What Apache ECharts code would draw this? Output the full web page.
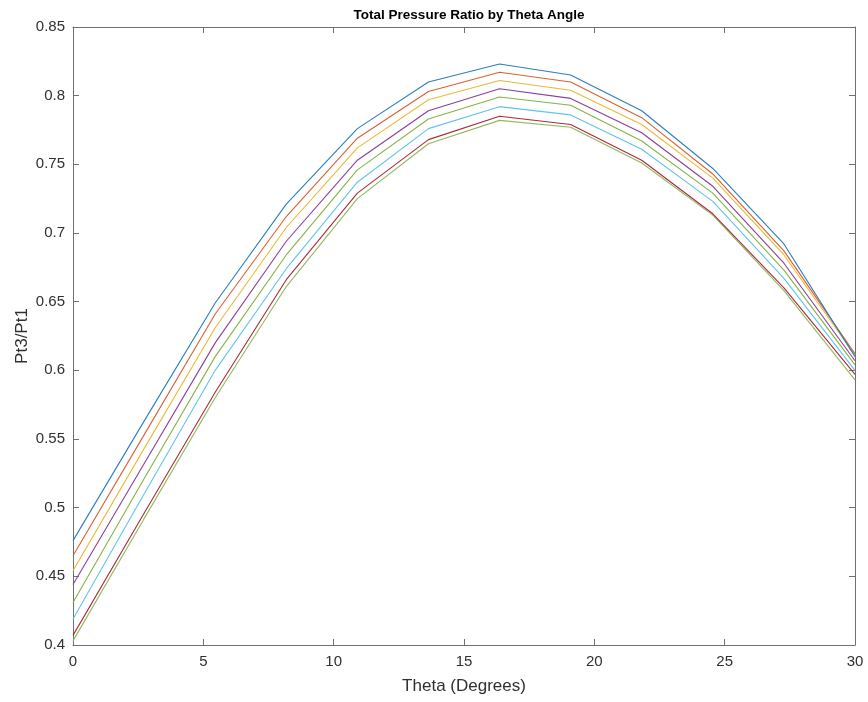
<!DOCTYPE html>
<html>
<head>
<meta charset="utf-8">
<script src="https://cdn.jsdelivr.net/npm/echarts@6/dist/echarts.min.js"></script>
<style>
html,body{margin:0;padding:0;background:#fff;}
#chart{width:868px;height:702px;}
</style>
</head>
<body>
<div id="chart"></div>
<script>
var thetaValues = [0, 2.727, 5.455, 8.182, 10.909, 13.636, 16.364, 19.091, 21.818, 24.545, 27.273, 30];
var line1 = [0.476, 0.563, 0.649, 0.721, 0.776, 0.810, 0.823, 0.815, 0.789, 0.747, 0.692, 0.610];
var line2 = [0.465, 0.553, 0.641, 0.712, 0.769, 0.803, 0.817, 0.810, 0.784, 0.743, 0.687, 0.612];
var line3 = [0.454, 0.543, 0.631, 0.704, 0.762, 0.797, 0.811, 0.804, 0.779, 0.740, 0.684, 0.611];
var line4 = [0.444, 0.532, 0.620, 0.694, 0.753, 0.789, 0.805, 0.798, 0.773, 0.734, 0.678, 0.607];
var line5 = [0.431, 0.521, 0.610, 0.684, 0.746, 0.783, 0.799, 0.793, 0.767, 0.729, 0.673, 0.604];
var line6 = [0.419, 0.510, 0.600, 0.674, 0.737, 0.776, 0.792, 0.786, 0.761, 0.723, 0.667, 0.600];
var line7 = [0.407, 0.496, 0.584, 0.666, 0.729, 0.768, 0.785, 0.779, 0.753, 0.714, 0.660, 0.597];
var line8 = [0.403, 0.492, 0.580, 0.661, 0.725, 0.765, 0.782, 0.777, 0.751, 0.713, 0.658, 0.593];
var allLines = [line1, line2, line3, line4, line5, line6, line7, line8];
var lineColors = ['#2a7fc0', '#dc6030', '#edb838', '#8a4098', '#84b446', '#62c3ee', '#ab2a40', '#8cbc5a'];

var titleText = 'Total Pressure Ratio by Theta Angle';
var xLabel = 'Theta (Degrees)';
var yLabel = 'Pt3/Pt1';

var chart = echarts.init(document.getElementById('chart'), null, {renderer: 'canvas'});
var fontFam = 'Liberation Sans, Arial, Helvetica, sans-serif';
var axisCol = '#707070';
var labelCol = '#303030';

function pairs(ys) {
  return ys.map(function (y, i) { return [thetaValues[i], y]; });
}

var series = allLines.map(function (ys, i) {
  return {
    type: 'line',
    data: pairs(ys),
    showSymbol: false,
    symbol: 'none',
    lineStyle: {width: 1.1, color: lineColors[i]},
    itemStyle: {color: lineColors[i]},
    xAxisIndex: 0,
    yAxisIndex: 0,
    animation: false,
    z: 2 + (allLines.length - i)
  };
});

var option = {
  backgroundColor: '#ffffff',
  animation: false,
  title: {
    text: titleText,
    left: 464,
    top: 3,
    textAlign: 'center',
    textStyle: {fontFamily: fontFam, fontSize: 13.5, fontWeight: 'bold', color: '#000'}
  },
  grid: {left: 73, right: 13, top: 27, bottom: 57, containLabel: false},
  xAxis: [{
    type: 'value', min: 0, max: 30, interval: 5,
    position: 'bottom',
    name: xLabel, nameLocation: 'middle', nameGap: 33,
    nameTextStyle: {fontFamily: fontFam, fontSize: 17, color: labelCol},
    axisLine: {show: true, onZero: false, lineStyle: {color: axisCol, width: 1}},
    axisTick: {show: true, inside: true, length: 6, lineStyle: {color: axisCol}},
    axisLabel: {fontFamily: fontFam, fontSize: 15, color: labelCol, margin: 9},
    splitLine: {show: false}
  }, {
    type: 'value', min: 0, max: 30, interval: 5,
    position: 'top',
    axisLine: {show: true, onZero: false, lineStyle: {color: axisCol, width: 1}},
    axisTick: {show: true, inside: true, length: 6, lineStyle: {color: axisCol}},
    axisLabel: {show: false},
    splitLine: {show: false}
  }],
  yAxis: [{
    type: 'value', min: 0.4, max: 0.85, interval: 0.05,
    position: 'left',
    name: yLabel, nameLocation: 'middle', nameGap: 51, nameRotate: 90,
    nameMoveOverlap: false,
    nameTextStyle: {fontFamily: fontFam, fontSize: 17, color: labelCol, verticalAlign: 'middle'},
    axisLine: {show: true, onZero: false, lineStyle: {color: axisCol, width: 1}},
    axisTick: {show: true, inside: true, length: 6, lineStyle: {color: axisCol}},
    axisLabel: {fontFamily: fontFam, fontSize: 15, color: labelCol, margin: 8,
      formatter: function (v) { return String(Math.round(v * 100) / 100); }},
    splitLine: {show: false}
  }, {
    type: 'value', min: 0.4, max: 0.85, interval: 0.05,
    position: 'right',
    axisLine: {show: true, onZero: false, lineStyle: {color: axisCol, width: 1}},
    axisTick: {show: true, inside: true, length: 6, lineStyle: {color: axisCol}},
    axisLabel: {show: false},
    splitLine: {show: false}
  }],
  series: series
};
chart.setOption(option);
</script>
</body>
</html>
